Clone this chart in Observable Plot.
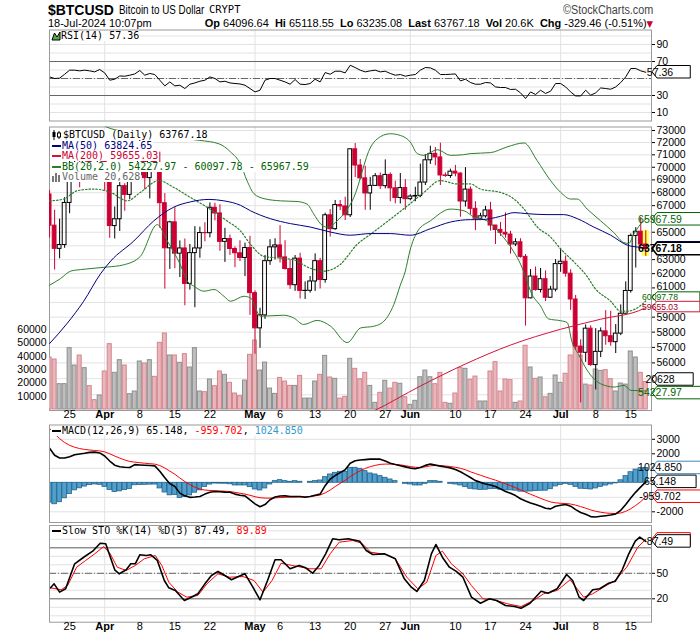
<!DOCTYPE html>
<html><head><meta charset="utf-8">
<script src="https://cdn.jsdelivr.net/npm/d3@7"></script>
<script src="https://cdn.jsdelivr.net/npm/@observablehq/plot@0.6"></script>
<style>
html,body{margin:0;padding:0;background:#fff;}
#chart{position:relative;width:700px;height:639px;overflow:hidden;font-family:'Liberation Sans',Arial,sans-serif;color:#000;}
.layer{position:absolute;left:0;}
.t{position:absolute;white-space:nowrap;line-height:1;}
.lg{position:absolute;white-space:nowrap;font-family:'DejaVu Sans Mono',monospace;font-size:10px;line-height:10px;height:10px;background:#fff;padding-right:1px;}
.lg svg{vertical-align:top;}
</style></head><body><div id="chart"></div>
<script>
// ---------------- DATA ----------------
const symbol = "$BTCUSD";
const symbolName = "Bitcoin to US Dollar";
const exchange = "CRYPT";
const stamp = "18-Jul-2024 10:07pm";
// day index 0 = 21-Mar-2024 ... 119 = 18-Jul-2024
const tickDays   = [4,11,18,25,32,41,46,53,60,67,72,81,88,95,102,109,116];
const tickLabels = ["25","Apr","8","15","22","May","6","13","20","27","Jun","10","17","24","Jul","8","15"];
const monthStarts = [11,41,72,102];
// right-axis labels that are visible (the others sit under value tags)
const priceLabels = [56000,57000,58000,59000,61000,62000,63000,65000,67000,68000,69000,70000,71000,72000,73000];
const crowdedLabels = [61000,59000];   // the two labels squeezed around the BB-mid / MA200 tags
const volumeLabels = [10000,20000,30000,40000,50000,60000];
const rsiLabels = [10,30,70,90];
const macdLabels = [-2000,2000,3000];
const stoLabels = [20,50];

const opens = [67860,65490,63780,64060,67210,69880,69990,69460,70780,69890,
69700,71250,69650,65460,65970,68510,67830,68900,69360,71620,
69140,70590,70060,67190,63820,65740,63430,63810,61280,63470,
63810,64940,64930,66840,66410,64290,64500,63770,63460,63120,
63840,60640,58250,59120,62890,63890,64030,63160,62330,61190,
63070,60790,60800,61450,62890,61550,66270,65230,67050,66940,
66270,71450,70140,69120,67940,68530,69290,68510,69390,68340,
67590,68360,67500,67700,67750,68790,70560,71080,70790,69350,
69310,69650,69500,67320,68240,66760,66010,66190,66640,65500,
65170,64960,64830,64100,64260,63200,60280,61800,60860,61610,
60320,60880,62680,62850,62000,60200,57050,56650,58230,55860,
56710,58050,57730,57340,57900,59230,60790,64730,65040,64096.64];
const highs = [68160,66650,65980,67620,71150,71560,71710,71550,70900,70330,
71370,71340,69650,66900,69290,68700,69600,70300,72700,71740,
71170,71250,71220,67930,65820,66850,64360,64500,64100,65420,
65380,65710,67210,67190,67070,65290,64790,63920,64370,64200,
64700,60800,59600,63300,64450,64520,65490,64380,62990,63300,
63460,61420,61800,63420,63090,66430,66700,67400,67400,67650,
71480,71920,70620,70080,69200,69500,69550,70590,69550,68900,
69500,69020,67840,68420,70250,71030,71700,71600,71950,69550,
69850,70150,69560,69970,68450,67300,66420,66950,67250,65500,
65730,66450,65070,64520,64520,63370,62290,62470,62370,62200,
61110,63000,63800,63260,62280,60480,57500,58480,58420,58230,
58280,59440,59400,58500,59830,61420,64870,65340,66100,65118.55];
const lows = [64570,62260,63060,63820,66390,69300,68380,68900,69100,69520,
69600,68120,64550,64500,65060,66580,67460,68800,69050,68210,
67520,69570,65290,60920,62300,62350,61730,59770,60850,59640,
63100,64300,64580,65850,63600,62800,63300,62420,62860,61790,
59120,56550,56940,58850,62590,62980,62760,62250,60900,60760,
60240,60200,60640,60760,60930,61330,64640,65140,66630,65870,
66100,69190,69000,66650,66650,68500,68250,68300,67300,67140,
67130,66650,67380,67300,67610,68560,70230,70120,68560,69200,
69120,69240,66120,66900,66300,65120,65920,66050,65090,64100,
64700,64560,63400,63950,63100,58400,60250,60770,60650,60060,
60290,60720,62100,61750,59460,56800,53500,56040,55780,54300,
56340,57140,57070,56600,57770,59230,60640,62400,63870,63235.08];
const closes = [65490,63780,64060,67210,69880,69990,69460,70780,69890,69700,
71250,69650,65460,65970,68510,67830,68900,69360,71620,69140,
70590,70060,67190,63820,65740,63430,63810,61280,63470,63810,
64940,64930,66840,66410,64290,64500,63770,63460,63120,63840,
60640,58250,59120,62890,63890,64030,63160,62330,61190,63070,
60790,60800,61450,62890,61550,66270,65230,67050,66940,66270,
71450,70140,69120,67940,68530,69290,68510,69390,68340,67590,
68360,67500,67700,67750,68790,70560,71080,70790,69350,69310,
69650,69500,67320,68240,66760,66010,66190,66640,65500,65170,
64960,64830,64100,64260,63200,60280,61800,60860,61610,60320,
60880,62680,62850,62000,60200,57050,56650,58230,55860,56710,
58050,57730,57340,57900,59230,60790,64730,65040,64096.64,63767.18];
const volumes = [39000,37500,19000,19000,46000,33000,40500,31000,17500,7000,
10500,28500,49000,27500,37000,33000,11500,13500,36000,34500,
37000,24500,50000,57000,40500,40500,35000,41500,31500,46000,
13500,13000,22500,17500,28500,26000,20000,12000,10000,21700,
41000,51700,29200,35200,15700,11700,23700,21000,17700,17700,
25200,8200,8200,21000,26000,40200,24000,23000,8200,9500,
38000,30500,22700,27500,17700,5000,12500,21500,15700,20000,
19300,9200,3500,6500,24200,29200,24200,19000,27500,5000,
4300,12000,31200,30500,22300,24700,6000,6000,28500,35500,
13500,22500,22000,5000,6000,47800,31500,23000,24000,9200,
11700,25500,20000,26800,40500,58000,40500,18700,18000,30000,
29000,29500,22700,13500,19500,18700,43500,39000,27500,20628];

// overlays: [day, value] points
const ma50 = [[0,57250],[3.5,58580],[6.8,60080],[10.2,62010],[12.2,62900],[16.8,64350],[20.8,65850],[24.8,66890],[28.1,67290],[31.8,67480],[34.8,67370],[38.1,67030],[40.1,66610],[44.1,66010],[48.1,65640],[52,65390],[56,65020],[60,64780],[64,64900],[68,64900],[72,64780],[76,65260],[80,65760],[84,65940],[86,65940],[90,66190],[92.7,66470],[95.3,66390],[99.3,66320],[102.6,66320],[105.3,66020],[108.6,65390],[112,64780],[115.3,64050],[118,63880],[119,63824.65]];
const ma200 = [[60,52400],[64.4,52970],[74,54540],[83,55930],[92,57150],[102,58190],[110,58860],[118.6,59580],[119,59655.03]];
const bbUpper = [[0,75500],[5,75000],[10,73900],[11.4,73280],[18,72730],[24,72400],[30,72180],[33.8,71900],[36.1,71240],[38.1,70260],[39.4,68940],[40.8,67920],[42.8,67540],[46.1,67370],[49.4,67320],[51.4,67120],[52.7,66380],[54.1,65620],[55.4,65370],[57.4,65850],[60.7,67610],[64.1,71640],[65.4,72310],[68,72730],[70,72590],[72,72040],[73.4,71100],[74.7,70960],[77.4,71420],[80,70960],[82.6,71010],[84,71100],[88,71180],[91.3,71640],[94.7,71970],[97.3,70540],[100,68940],[102,68030],[104,67510],[105.3,67510],[107.3,66740],[110,65850],[112.6,64980],[114.6,64240],[115.6,64170],[116.6,64860],[118.6,65850],[119,65967.59]];
const bbMid = [[0,67370],[2.8,67510],[5.5,68150],[8.8,68280],[12.2,68020],[15.5,67370],[18.1,68020],[21.8,68940],[24.8,68410],[28.1,67630],[31.5,66860],[35.4,65850],[38.1,65100],[40.1,64110],[42.8,63230],[46.1,63110],[48.7,62990],[52,62390],[54.7,62180],[58,62650],[61.4,64110],[64.1,64860],[68,65970],[71.4,66980],[74.7,68020],[78,68940],[81.4,68680],[84,68680],[86,68280],[90,68020],[92.7,67510],[94.7,66740],[97.4,65370],[100,64640],[102,63780],[104.7,62820],[107.4,61750],[108.7,61040],[112,60080],[114,59400],[115.3,59400],[118.6,59970],[119,60097.78]];
const bbLower = [[0,61190],[2.2,61660],[4.2,62180],[6.2,62290],[11.5,62470],[14.8,62630],[18.1,63230],[21.5,65570],[23.5,64350],[26.1,62630],[27.5,61470],[28.8,61120],[30.8,60770],[32.8,60890],[34.8,60420],[36.1,60080],[38.8,60420],[40.1,60310],[42.1,59060],[46.7,59130],[48.7,58950],[50.7,58510],[53.4,58780],[56.1,58390],[59.4,57310],[62.1,58280],[64.7,58390],[66.7,58720],[68.7,59850],[70,61190],[71,62180],[71.9,63620],[73.5,65100],[76,65850],[80,66740],[82.7,66610],[84.7,66130],[87.3,65850],[90,64880],[92.7,63540],[94,62680],[95.3,61470],[96,60770],[98,59750],[99.6,58880],[102,58760],[103.3,58640],[104.3,57330],[105.6,56530],[107.3,55530],[110,54680],[112.7,54480],[114.7,54580],[116,54270],[118.6,54240],[119,54227.97]];

const rsi = [51.9,50,50.4,55,59.8,59.8,59,59.8,59,57.8,
60.6,56.6,48,49.2,53,52.7,53.9,55.4,59.4,53.9,
55.9,54.7,48,41.3,46,41.3,42.1,38.2,43.3,44.8,
46.8,48,51.9,50,46,46.8,44.8,44.1,43.6,42.1,
38.2,34.2,36.2,48,50,50,48,46,43.3,48.8,
43.3,42.9,44.1,49.2,46,57,55,58.6,58.6,56.6,
65.6,62.9,59.8,57.8,59,59.8,57.8,58.6,55.9,53.9,
54.7,52.7,53.9,54.7,59.8,62.9,62.5,59.8,54.7,54.7,
55,55.4,47.2,49.2,45.3,43.3,43.3,45.3,44.8,40.1,
39.4,39.4,37.1,37.4,33.1,26.5,34.2,31.2,36.2,32.4,
35.1,44.1,44.1,40.1,34.2,29.5,29.5,36.2,30.4,33.1,
38.9,38.2,37.4,40.1,45.3,51.9,61.8,61.8,59,57.36];

const macd = [2386,1900,1708,1708,1800,1932,1990,2040,2100,2115,
2060,1850,1500,1213,1110,1070,1051,1254,1230,1210,
1190,1166,800,350,-60,-258,-712,-900,-1003,-983,
-950,-780,-650,-597,-620,-644,-650,-780,-860,-900,
-1172,-1450,-1650,-1500,-1172,-980,-910,-900,-945,-945,
-945,-1000,-950,-860,-780,-200,250,500,700,900,
1350,1520,1570,1600,1630,1640,1630,1500,1350,1260,
1180,1100,1014,966,1050,1200,1290,1220,1150,1090,
1030,920,760,560,366,150,30,-80,-150,-250,
-420,-597,-720,-880,-1100,-1250,-1390,-1500,-1614,-1750,
-1797,-1614,-1550,-1498,-1614,-1850,-2050,-2176,-2330,-2359,
-2312,-2270,-2224,-2150,-1900,-1500,-1051,-640,-280,65.148];
const signal = [3750,3380,3044,2777,2582,2452,2360,2300,2260,2230,
2200,2130,2000,1845,1700,1575,1470,1425,1385,1350,
1318,1288,1190,1020,805,590,330,85,-130,-300,
-430,-500,-530,-545,-560,-580,-600,-660,-720,-780,
-860,-960,-1030,-1055,-1055,-1040,-1020,-1005,-990,-985,
-975,-960,-945,-900,-840,-700,-500,-260,-40,180,
420,640,830,990,1110,1200,1270,1290,1290,1270,
1240,1180,1120,1070,1060,1100,1170,1190,1190,1160,
1120,1070,1000,900,759,640,520,400,290,180,
60,-70,-200,-335,-490,-640,-790,-930,-1070,-1205,
-1320,-1380,-1415,-1430,-1465,-1540,-1640,-1750,-1870,-1965,
-2030,-2080,-2110,-2120,-2080,-1970,-1790,-1560,-1300,-959.702];
const histogram = [-1365,-1480,-1340,-1070,-780,-520,-380,-260,-160,-115,
-140,-280,-500,-630,-590,-505,-420,-170,-155,-140,
-128,-122,-390,-670,-865,-848,-1040,-985,-870,-683,
-520,-280,-120,-52,-60,-64,-100,-184,-184,-184,
-300,-460,-530,-390,-115,115,184,115,70,115,
70,0,70,115,160,390,575,690,760,760,
1034,1034,965,805,645,575,460,345,230,115,
0,-70,-115,-184,-184,-70,115,115,70,0,
-70,-115,-184,-300,-414,-460,-490,-480,-440,-430,
-480,-527,-520,-545,-610,-610,-600,-570,-550,-545,
-440,-250,-150,-70,-140,-280,-410,-430,-460,-390,
-280,-190,-115,-40,175,460,730,910,1010,1024.85];

const stoK = [[0.2,32.9],[0.9,37.6],[2,27.8],[3.2,31.8],[5,61.2],[6.8,68.9],[8.6,76],[10.1,85.4],[11.2,84.7],[13,54.1],[13.9,49.4],[15.3,54.1],[16.2,61.2],[17.1,61.2],[18,71.8],[19.3,70.9],[20.2,71.8],[21.5,65.1],[22.9,41.5],[23.8,32.9],[25.1,29.8],[26.9,18],[28.3,21.9],[29.6,25.9],[31,37.6],[32.3,47.4],[33.6,52.1],[35,47.4],[36.3,42.4],[37.7,46.2],[39,49.4],[40.4,35.6],[42,18.8],[43.5,41.5],[45,65.9],[46.2,65.9],[48,55.3],[49.8,59.2],[51.1,56.5],[52.5,50.1],[53.8,59.2],[55.1,72.9],[56.5,90.6],[57.8,89.4],[59.6,90.6],[61.9,87.8],[63.2,76.8],[64.5,72.1],[66.8,72.9],[69,67.1],[70.8,43.5],[72.2,33.6],[73.3,28.6],[74.8,41.5],[76.2,72.9],[77.1,83.9],[78.4,68.9],[79.8,57.2],[81.1,52.5],[82.5,45.4],[84.2,21.9],[86,14.8],[87.8,20],[89.2,18],[91,12.1],[92.8,10.9],[94.1,8.9],[95.9,14.8],[98.1,28.9],[99.5,26.6],[101.3,31.8],[103.2,48.6],[104.4,41.5],[105.7,21.9],[106.6,18],[108.4,30.6],[109.8,31.8],[111.6,38.4],[112.9,40.7],[114.3,54.1],[115.6,72.9],[116.9,87.8],[117.8,92.5],[119,87.49]];
const stoD = [[0.2,32.9],[2.3,30.6],[3.6,35.6],[5.4,57.2],[7.2,65.1],[9,72.9],[10.8,81.5],[12.1,72.9],[13.5,57.2],[15.3,53.3],[17.1,59.2],[18.9,67.1],[21.1,70.9],[22.4,59.2],[23.8,39.5],[25.6,27.8],[27.4,21.9],[29.6,23.9],[31.4,37.6],[33.6,49.4],[35.9,45.4],[38.6,46.2],[40.8,41.5],[42.6,27.8],[44.4,41.5],[46.2,61.9],[48.4,59.2],[52,55.3],[54.2,55.3],[56,72.9],[57.8,86.6],[60.5,88.6],[62.3,85.4],[64.1,74.8],[67.2,72.1],[69,67.1],[71.3,45.4],[73.5,31.8],[75.3,39.5],[77.1,70.9],[78.4,76],[80.2,61.2],[82.5,49.4],[84.2,35.6],[86.5,20],[88.7,18.8],[91.4,14.1],[94.1,10.9],[96.8,18.8],[98.6,25.9],[101.3,29.8],[103.9,42.4],[106.6,21.9],[108.4,25.9],[111.1,35.6],[112.9,41.5],[115.2,57.2],[117.4,80.7],[119,89.89]];

// ---------------- helpers ----------------
const RED = "#cc0033", NAVY = "#000080", MA200C = "#d2143c", BBC = "#2b7f2b", BBT = "#006400";
const GRID = "#e2e2e2", FRAME = "#9a9a9a";
const last = a => a[a.length - 1];
const lastV = a => last(a)[1];
const chart = document.getElementById("chart");
const xDomain = [-0.02, 120.14];
const baseStyle = {background: "transparent", fontFamily: "'Liberation Sans',Arial,sans-serif", fontSize: "10.5px", overflow: "visible", color: "#000"};
function place(svg, top) { svg.classList.add("layer"); svg.style.top = top + "px"; chart.appendChild(svg); }
function textW(s, fs) {
  let w = 0;
  for (const ch of s) w += (ch === "." || ch === ",") ? 0.278 : ch === "-" ? 0.333 : 0.556;
  return w * fs;
}
// value tags on the right axis; dy nudges a tag so neighbouring tags do not cover each other
function tagMark(items, fs = 10.5) {
  return (index, scales, values, dims) => {
    const g = d3.create("svg:g");
    const x0 = dims.width - dims.marginRight + 1;
    for (const t of items) {
      const y = scales.y(t.value) + (t.dy || 0);
      const f = t.fs || fs;
      const w = textW(t.text, f) * (t.bold ? 1.08 : 1) + 7;
      const h = t.h || 12.5;
      g.append("path")
        .attr("d", `M${x0},${y}L${x0 + 5},${y - h / 2}H${x0 + 5 + w}V${y + h / 2}H${x0 + 5}Z`)
        .attr("fill", "#fff").attr("stroke", t.stroke).attr("stroke-width", t.bold ? 1.6 : 1);
      if (!t.hidden) {
        g.append("text").attr("x", x0 + 8).attr("y", y).attr("dy", "0.36em")
          .attr("fill", t.color).attr("font-size", f).attr("font-weight", t.bold ? "bold" : "normal")
          .text(t.text);
      }
    }
    return g.node();
  };
}
function dateMarks(dy) {
  const rows = tickDays.map((d, k) => ({d, s: tickLabels[k], m: monthStarts.includes(d)}));
  return [
    Plot.text(rows.filter(r => !r.m), {x: "d", text: "s", frameAnchor: "bottom", dy, fontSize: 11}),
    Plot.text(rows.filter(r => r.m), {x: "d", text: "s", frameAnchor: "bottom", dy, fontSize: 11, fontWeight: "bold"})
  ];
}
const days = d3.range(closes.length);
const candles = days.map(i => {
  const o = opens[i], c = closes[i], prev = i ? closes[i - 1] : o;
  const col = c < prev ? RED : "#000";
  return {i, o, h: highs[i], l: lows[i], c, top: Math.max(o, c), bot: Math.min(o, c), col, fill: c < o ? col : "none"};
});
const vols = days.map(i => ({i, v: volumes[i], down: i ? closes[i] < closes[i - 1] : true}));

// ---------------- header ----------------
const fmt2 = v => v.toFixed(2);
const chg = closes[119] - closes[118];
const pct = chg / closes[118] * 100;
chart.insertAdjacentHTML("beforeend", `
<div class="t" style="left:48px;top:1.5px;font-size:15.5px;font-weight:bold;transform:scaleX(.9);transform-origin:left">${symbol}</div>
<div class="t" style="left:119px;top:3.5px;font-size:12px;transform:scaleX(.82);transform-origin:left">${symbolName}</div>
<div class="t" style="left:209px;top:4px;font-size:11px;font-family:'DejaVu Sans Mono',monospace;transform:scaleX(.95);transform-origin:left">${exchange}</div>
<div class="t" style="right:47px;top:3.5px;font-size:12px;color:#444;transform:scaleX(.9);transform-origin:right">&copy;StockCharts.com</div>
<div class="t" style="left:48px;top:18.2px;font-size:11.8px;transform:scaleX(.93);transform-origin:left">${stamp}</div>
<div class="t" style="right:47px;top:18.2px;font-size:11.8px;transform:scaleX(.93);transform-origin:right"><b>Op</b> ${fmt2(opens[119])} &nbsp;<b>Hi</b> ${fmt2(highs[119])} &nbsp;<b>Lo</b> ${fmt2(lows[119])} &nbsp;<b>Last</b> ${fmt2(closes[119])} &nbsp;<b>Vol</b> ${(volumes[119] / 1000).toFixed(1)}K &nbsp;<b>Chg</b> ${chg.toFixed(2)} (${pct.toFixed(2)}%)<span style="color:${RED};font-family:'DejaVu Sans';font-size:9px">&#9660;</span></div>
`);

// ---------------- RSI panel ----------------
place(Plot.plot({
  width: 700, height: 92, marginLeft: 49, marginRight: 49, marginTop: 0.5, marginBottom: 0.5,
  style: baseStyle,
  x: {domain: xDomain, axis: null},
  y: {domain: [0, 106.5], range: [91.5, 1], axis: "right", ticks: rsiLabels, tickSize: 3, tickPadding: 2, tickFormat: d => String(d), label: null},
  marks: [
    Plot.ruleY(d3.range(10, 101, 10), {stroke: GRID}),
    Plot.ruleX(monthStarts, {stroke: GRID}),
    Plot.ruleY([30, 70], {stroke: "#666"}),
    Plot.ruleY([50], {stroke: "#666", strokeDasharray: "7,2,1,2"}),
    Plot.line(rsi, {x: (d, i) => i, y: d => d, stroke: "#000", strokeWidth: 1, clip: true}),
    Plot.frame({stroke: FRAME}),
    tagMark([{value: last(rsi), text: last(rsi).toFixed(2), stroke: "#000", color: "#000"}])
  ]
}), 29);

// ---------------- main price panel: grid layer ----------------
const priceGrid = d3.range(54000, 73001, 1000);
const yPrice = {type: "log", domain: [53040, 73291], range: [286, 2.5]};
place(Plot.plot({
  width: 700, height: 300, marginLeft: 49, marginRight: 49, marginTop: 2.5, marginBottom: 14,
  style: baseStyle,
  x: {domain: xDomain, axis: null},
  y: {...yPrice, axis: "right", ticks: priceLabels, tickSize: 3, tickPadding: 2,
      tickFormat: d => crowdedLabels.includes(d) ? "" : String(d), label: null},
  marks: [
    Plot.ruleY(priceGrid, {stroke: GRID}),
    Plot.ruleX(monthStarts, {stroke: GRID}),
    Plot.frame({stroke: FRAME}),
    // the two crowded labels, nudged a hair apart from the value tags between them
    Plot.text([crowdedLabels[0]], {y: d => d, text: d => String(d), frameAnchor: "right", dx: 5, dy: -1.2, textAnchor: "start"}),
    Plot.text([crowdedLabels[1]], {y: d => d, text: d => String(d), frameAnchor: "right", dx: 5, dy: 0.8, textAnchor: "start"}),
    ...dateMarks(7)
  ]
}), 124);

// ---------------- volume layer ----------------
place(Plot.plot({
  width: 700, height: 300, marginLeft: 49, marginRight: 49, marginTop: 2.5, marginBottom: 14,
  style: baseStyle,
  x: {domain: xDomain, axis: null},
  y: {domain: [0, 60000], range: [285, 205], axis: "left", ticks: volumeLabels, tickSize: 0, tickPadding: 3, tickFormat: d => String(d), label: null},
  marks: [
    Plot.rect(vols, {x1: d => d.i - 0.4, x2: d => d.i + 0.4, y1: 0, y2: "v",
      fill: d => d.down ? "#e8b7bc" : "#bebebe", stroke: d => d.down ? "#d4848d" : "#8e8e8e", strokeWidth: 1, clip: true}),
    tagMark([{value: volumes[119], text: String(volumes[119]), stroke: "#000", color: "#000", dy: -2.5}])
  ]
}), 124);

// ---------------- price layer ----------------
const lc = candles[119];
place(Plot.plot({
  width: 700, height: 300, marginLeft: 49, marginRight: 49, marginTop: 2.5, marginBottom: 14,
  style: baseStyle,
  x: {domain: xDomain, axis: null},
  y: {...yPrice, axis: null},
  marks: [
    Plot.rect([lc], {x1: d => d.i - 0.7, x2: d => d.i + 0.7, y1: "l", y2: "h", fill: "#ffff55"}),
    Plot.ruleX(candles, {x: "i", y1: "top", y2: "h", stroke: "col", strokeWidth: 1, clip: true}),
    Plot.ruleX(candles, {x: "i", y1: "l", y2: "bot", stroke: "col", strokeWidth: 1, clip: true}),
    Plot.rect(candles, {x1: d => d.i - 0.38, x2: d => d.i + 0.38, y1: "bot", y2: "top", fill: "fill", stroke: "col", strokeWidth: 1, clip: true}),
    Plot.line(bbUpper, {x: d => d[0], y: d => d[1], stroke: BBC, strokeWidth: 1, curve: "monotone-x", clip: true}),
    Plot.line(bbLower, {x: d => d[0], y: d => d[1], stroke: BBC, strokeWidth: 1, curve: "monotone-x", clip: true}),
    Plot.line(bbMid, {x: d => d[0], y: d => d[1], stroke: BBC, strokeWidth: 1.2, strokeDasharray: "1.5,2", curve: "monotone-x", clip: true}),
    Plot.line(ma200, {x: d => d[0], y: d => d[1], stroke: MA200C, strokeWidth: 1, curve: "monotone-x", clip: true}),
    Plot.line(ma50, {x: d => d[0], y: d => d[1], stroke: NAVY, strokeWidth: 1, curve: "monotone-x", clip: true}),
    tagMark([
      {value: lastV(bbUpper), text: fmt2(lastV(bbUpper)), stroke: BBT, color: BBT},
      {value: lastV(ma50), text: fmt2(lastV(ma50)), stroke: NAVY, color: NAVY, hidden: true},
      {value: closes[119], text: fmt2(closes[119]), stroke: "#000", color: "#000", bold: true},
      {value: lastV(bbMid), text: fmt2(lastV(bbMid)), stroke: BBT, color: BBT, dy: -3.4, fs: 8.6, h: 10.5},
      {value: lastV(ma200), text: fmt2(lastV(ma200)), stroke: MA200C, color: "#a00020", dy: -0.4, fs: 8.6, h: 10.5},
      {value: lastV(bbLower), text: fmt2(lastV(bbLower)), stroke: BBT, color: BBT, dy: 2}
    ])
  ]
}), 124);

// ---------------- MACD panel ----------------
place(Plot.plot({
  width: 700, height: 99, marginLeft: 49, marginRight: 49, marginTop: 0.5, marginBottom: 1,
  style: baseStyle,
  x: {domain: xDomain, axis: null},
  y: {domain: [-2738, 3986], range: [98, 0.5], axis: "right", ticks: macdLabels, tickSize: 3, tickPadding: 2, tickFormat: d => String(d), label: null},
  marks: [
    Plot.ruleY([-2000, -1000, 1000, 2000, 3000], {stroke: GRID}),
    Plot.ruleX(monthStarts, {stroke: GRID}),
    Plot.rect(histogram, {x1: (d, i) => i - 0.45, x2: (d, i) => i + 0.45, y1: 0, y2: d => d, fill: "#509fcc", stroke: "#22638b", strokeWidth: 0.8, clip: true}),
    Plot.line(signal, {x: (d, i) => i, y: d => d, stroke: "#ff0000", strokeWidth: 1, clip: true}),
    Plot.line(macd, {x: (d, i) => i, y: d => d, stroke: "#000", strokeWidth: 1.6, clip: true}),
    Plot.frame({stroke: FRAME}),
    tagMark([
      {value: last(histogram), text: last(histogram).toFixed(3), stroke: "#3f87b8", color: "#000"},
      {value: last(macd), text: last(macd).toFixed(3), stroke: "#000", color: "#000"},
      {value: last(signal), text: last(signal).toFixed(3), stroke: "#ff0000", color: "#000"}
    ])
  ]
}), 424);

// ---------------- Slow STO panel ----------------
place(Plot.plot({
  width: 700, height: 115, marginLeft: 49, marginRight: 49, marginTop: 1, marginBottom: 17.3,
  style: baseStyle,
  x: {domain: xDomain, axis: null},
  y: {domain: [-7.53, 106.24], range: [97.7, 1], axis: "right", ticks: stoLabels, tickSize: 3, tickPadding: 2, tickFormat: d => String(d), label: null},
  marks: [
    Plot.ruleY(d3.range(0, 101, 10), {stroke: GRID}),
    Plot.ruleX(monthStarts, {stroke: GRID}),
    Plot.ruleY([20, 80], {stroke: "#666"}),
    Plot.ruleY([50], {stroke: "#666", strokeDasharray: "7,2,1,2"}),
    Plot.line(stoD, {x: d => d[0], y: d => d[1], stroke: "#ff0000", strokeWidth: 1, clip: true}),
    Plot.line(stoK, {x: d => d[0], y: d => d[1], stroke: "#000", strokeWidth: 1.6, clip: true}),
    Plot.frame({stroke: FRAME}),
    ...dateMarks(7.5),
    tagMark([
      {value: lastV(stoD), text: lastV(stoD).toFixed(2), stroke: "#ff0000", color: "#000", hidden: true},
      {value: lastV(stoK), text: lastV(stoK).toFixed(2), stroke: "#000", color: "#000"}
    ])
  ]
}), 524);

// ---------------- legends ----------------
const dash = c => `<svg width="11" height="10"><line x1="1" x2="10" y1="5" y2="5" stroke="${c}" stroke-width="2"/></svg>`;
const volStr = d3.format(",")(volumes[119]);
chart.insertAdjacentHTML("beforeend", `
<div class="lg" style="left:51px;top:31px"><svg width="10" height="10"><path d="M1,9L3.5,2L6,6L9,1V9Z" fill="#55aa55" stroke="#000" stroke-width="1"/></svg>RSI(14) ${last(rsi).toFixed(2)}</div>
<div class="lg" style="left:51px;top:130px"><svg width="12" height="10"><line x1="3" x2="3" y1="0" y2="10" stroke="#000"/><rect x="1.5" y="2" width="3" height="5" fill="#000"/><line x1="8" x2="8" y1="1" y2="9" stroke="#000"/><rect x="6.5" y="3" width="3" height="4" fill="#fff" stroke="#000"/></svg>${symbol} (Daily) ${fmt2(closes[119])}</div>
<div class="lg" style="left:51px;top:140.6px;color:${NAVY}">${dash(NAVY)}MA(50) ${fmt2(lastV(ma50))}</div>
<div class="lg" style="left:51px;top:151.2px;color:${RED}">${dash(MA200C)}MA(200) ${fmt2(lastV(ma200))}</div>
<div class="lg" style="left:51px;top:161.8px;color:${BBT}">${dash(BBC)}BB(20,2.0) ${fmt2(lastV(bbLower))} - ${fmt2(lastV(bbMid))} - ${fmt2(lastV(bbUpper))}</div>
<div class="lg" style="left:51px;top:172.4px;color:#666"><svg width="11" height="10"><rect x="1" y="4" width="2" height="6" fill="#777"/><rect x="4" y="1" width="2" height="9" fill="#777"/><rect x="7" y="3" width="2" height="7" fill="#777"/></svg>Volume ${volStr}</div>
<div class="lg" style="left:51px;top:426.2px">${dash("#000")}MACD(12,26,9) ${last(macd).toFixed(3)}, <span style="color:#ff0000">${last(signal).toFixed(3)}</span>, <span style="color:#3399cc">${last(histogram).toFixed(3)}</span></div>
<div class="lg" style="left:51px;top:526.2px">${dash("#000")}Slow STO %K(14) %D(3) ${lastV(stoK).toFixed(2)}, <span style="color:#ff0000">${lastV(stoD).toFixed(2)}</span></div>
`);
</script></body></html>
